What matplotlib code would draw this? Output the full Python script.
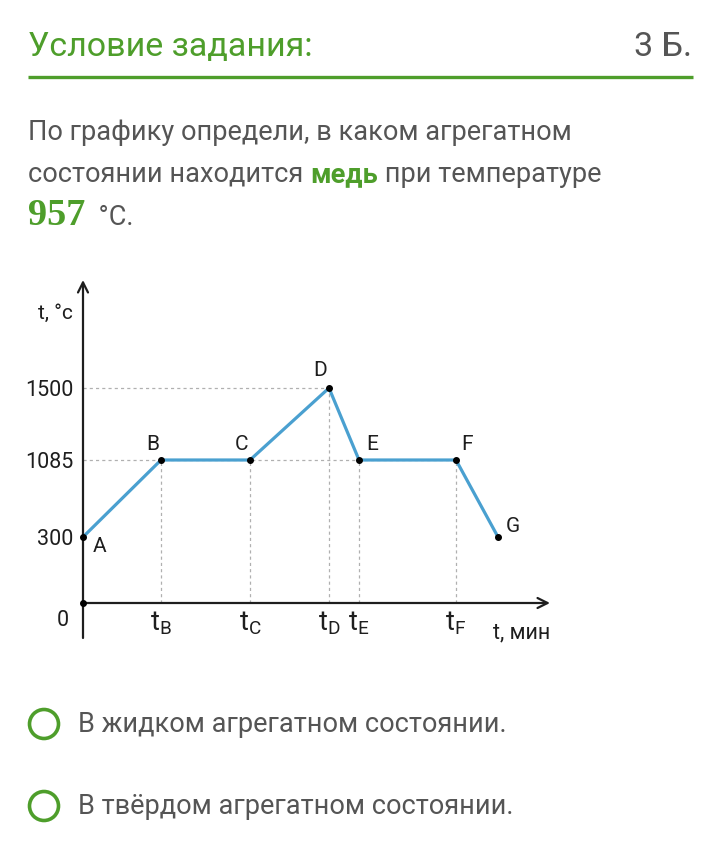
import numpy as np
import matplotlib
matplotlib.use("Agg")
import matplotlib.pyplot as plt
from matplotlib.patches import Circle

plt.rcParams['font.family'] = ['Roboto', 'DejaVu Sans']
plt.rcParams['mathtext.fontset'] = 'custom'
plt.rcParams['mathtext.rm'] = 'Roboto'
plt.rcParams['mathtext.it'] = 'Roboto:italic'
plt.rcParams['mathtext.bf'] = 'Roboto:bold'

# ---------------- data ----------------
point_names = ['A', 'B', 'C', 'D', 'E', 'F', 'G']
times = [0, 7.8, 16.7, 24.6, 27.6, 37.3, 41.5]          # schematic time (min)
temps = [300, 1085, 1085, 1500, 1085, 1085, 300]        # °C
ytick_values = [300, 1085, 1500]
ytick_labels = ['300', '1085', '1500']
xtick_labels = [r'$\mathrm{t}_\mathrm{B}$', r'$\mathrm{t}_\mathrm{C}$', r'$\mathrm{t}_\mathrm{D}$',
                r'$\mathrm{t}_\mathrm{E}$', r'$\mathrm{t}_\mathrm{F}$']

GREEN = '#4e9e2b'
BLUE = '#4aa0d0'
GRAY_TXT = '#555555'
DARK = '#1e1e1e'

W, H = 720, 866
fig = plt.figure(figsize=(W / 100, H / 100), dpi=100)
fig.patch.set_facecolor('white')

# background axes in pixel coordinates (y down)
bg = fig.add_axes([0, 0, 1, 1])
bg.set_xlim(0, W)
bg.set_ylim(H, 0)
bg.axis('off')

# header
bg.text(28, 56, 'Условие задания:', color=GREEN, fontsize=24.5, va='baseline')
bg.text(692, 56, '3 Б.', color=GRAY_TXT, fontsize=24.5, va='baseline', ha='right')
bg.plot([28, 693], [77, 77], color=GREEN, lw=2.4, solid_capstyle='butt')

renderer = fig.canvas.get_renderer()


def chain(x, y, pieces):
    for txt, kw in pieces:
        t = bg.text(x, y, txt, va='baseline', **kw)
        bb = t.get_window_extent(renderer)
        x = bb.x1


para_kw = dict(color=GRAY_TXT, fontsize=19.5)
chain(28, 140, [('По графику определи, в каком агрегатном', para_kw)])
chain(28, 182, [('состоянии находится ', para_kw),
                ('медь', dict(color=GREEN, fontsize=19.5, fontweight='bold')),
                (' при температуре', para_kw)])
chain(28, 225, [('957', dict(color=GREEN, fontsize=27.5, family=['Liberation Serif'], fontweight='bold')),
                ('  °C.', para_kw)])

# answer options
for yc, txt in [(724, 'В жидком агрегатном состоянии.'), (806, 'В твёрдом агрегатном состоянии.')]:
    bg.add_patch(Circle((44, yc), 14.5, fill=False, ec=GREEN, lw=2.6))
    bg.text(78, yc + 1, txt, color=GRAY_TXT, fontsize=19.5, va='center')

# ---------------- chart ----------------
x0, x1 = 83, 550
y0, y1 = 603, 280
ax = fig.add_axes([x0 / W, 1 - y0 / H, (x1 - x0) / W, (y0 - y1) / H])
ax.patch.set_alpha(0)

# schematic (non-linear) temperature axis: piecewise-linear scale
T_KNOTS = np.array([0, 300, 1085, 1500, 3000], dtype=float)
P_KNOTS = np.array([0, 66, 143, 215, 215 + 1500 * 72 / 415], dtype=float)


def fwd(v):
    return np.interp(v, T_KNOTS, P_KNOTS)


def inv(p):
    return np.interp(p, P_KNOTS, T_KNOTS)


ax.set_yscale('function', functions=(fwd, inv))
ax.set_xlim(0, 46.7)
ax.set_ylim(0, inv(323))
for s in ax.spines.values():
    s.set_visible(False)

# guides
dash = dict(color='#b0b0b0', lw=0.9, linestyles=(0, (2.5, 2.5)))
ax.hlines([temps[3], temps[1]], 0, [times[3], times[5]], **dash)
ax.vlines(times[1:6], 0, temps[1:6], **dash)

# axes arrows
ax.annotate('', xy=(1, 0), xytext=(0, 0), xycoords='axes fraction',
            arrowprops=dict(arrowstyle='->', lw=1.6, color=DARK, mutation_scale=18, shrinkA=0, shrinkB=0))
ax.annotate('', xy=(0, 1), xytext=(0, -35 / 323), xycoords='axes fraction',
            arrowprops=dict(arrowstyle='->', lw=1.6, color=DARK, mutation_scale=18, shrinkA=0, shrinkB=0))

# curve
ax.plot(times, temps, color=BLUE, lw=2.3, solid_joinstyle='round', clip_on=False, zorder=3)
ax.scatter(times, temps, s=16, color='black', zorder=4, clip_on=False)
ax.scatter([0], [0], s=16, color='black', zorder=4, clip_on=False)

offsets = {'A': (17, -9), 'B': (-8, 16), 'C': (-9, 16), 'D': (-9, 17), 'E': (13, 15), 'F': (11, 16), 'G': (15, 10)}
for name, t, v in zip(point_names, times, temps):
    dx, dy = offsets[name]
    ax.annotate(name, (t, v), xytext=(dx * 0.72, dy * 0.72), textcoords='offset points',
                ha='center', va='center', fontsize=15, color=DARK)

ax.set_yticks(ytick_values, ytick_labels)
ax.set_xticks(times[1:6], xtick_labels)
ax.tick_params(axis='y', length=0, pad=7, labelsize=15.5, labelcolor=DARK)
ax.tick_params(axis='x', length=0, pad=5, labelsize=19.5, labelcolor=DARK)
ax.yaxis.set_minor_locator(matplotlib.ticker.NullLocator())

ax.text(-20 / 467, -17 / 323, '0', transform=ax.transAxes, ha='center', va='center', fontsize=15.5, color=DARK)
ax.text(-10 / 467, (603 - 313) / 323, 't, °c', transform=ax.transAxes, ha='right', va='center', fontsize=15, color=DARK)
ax.text(1, -30 / 323, 't, мин', transform=ax.transAxes, ha='right', va='center', fontsize=15.5, color=DARK)

fig.savefig('out.png', dpi=100, facecolor='white')
